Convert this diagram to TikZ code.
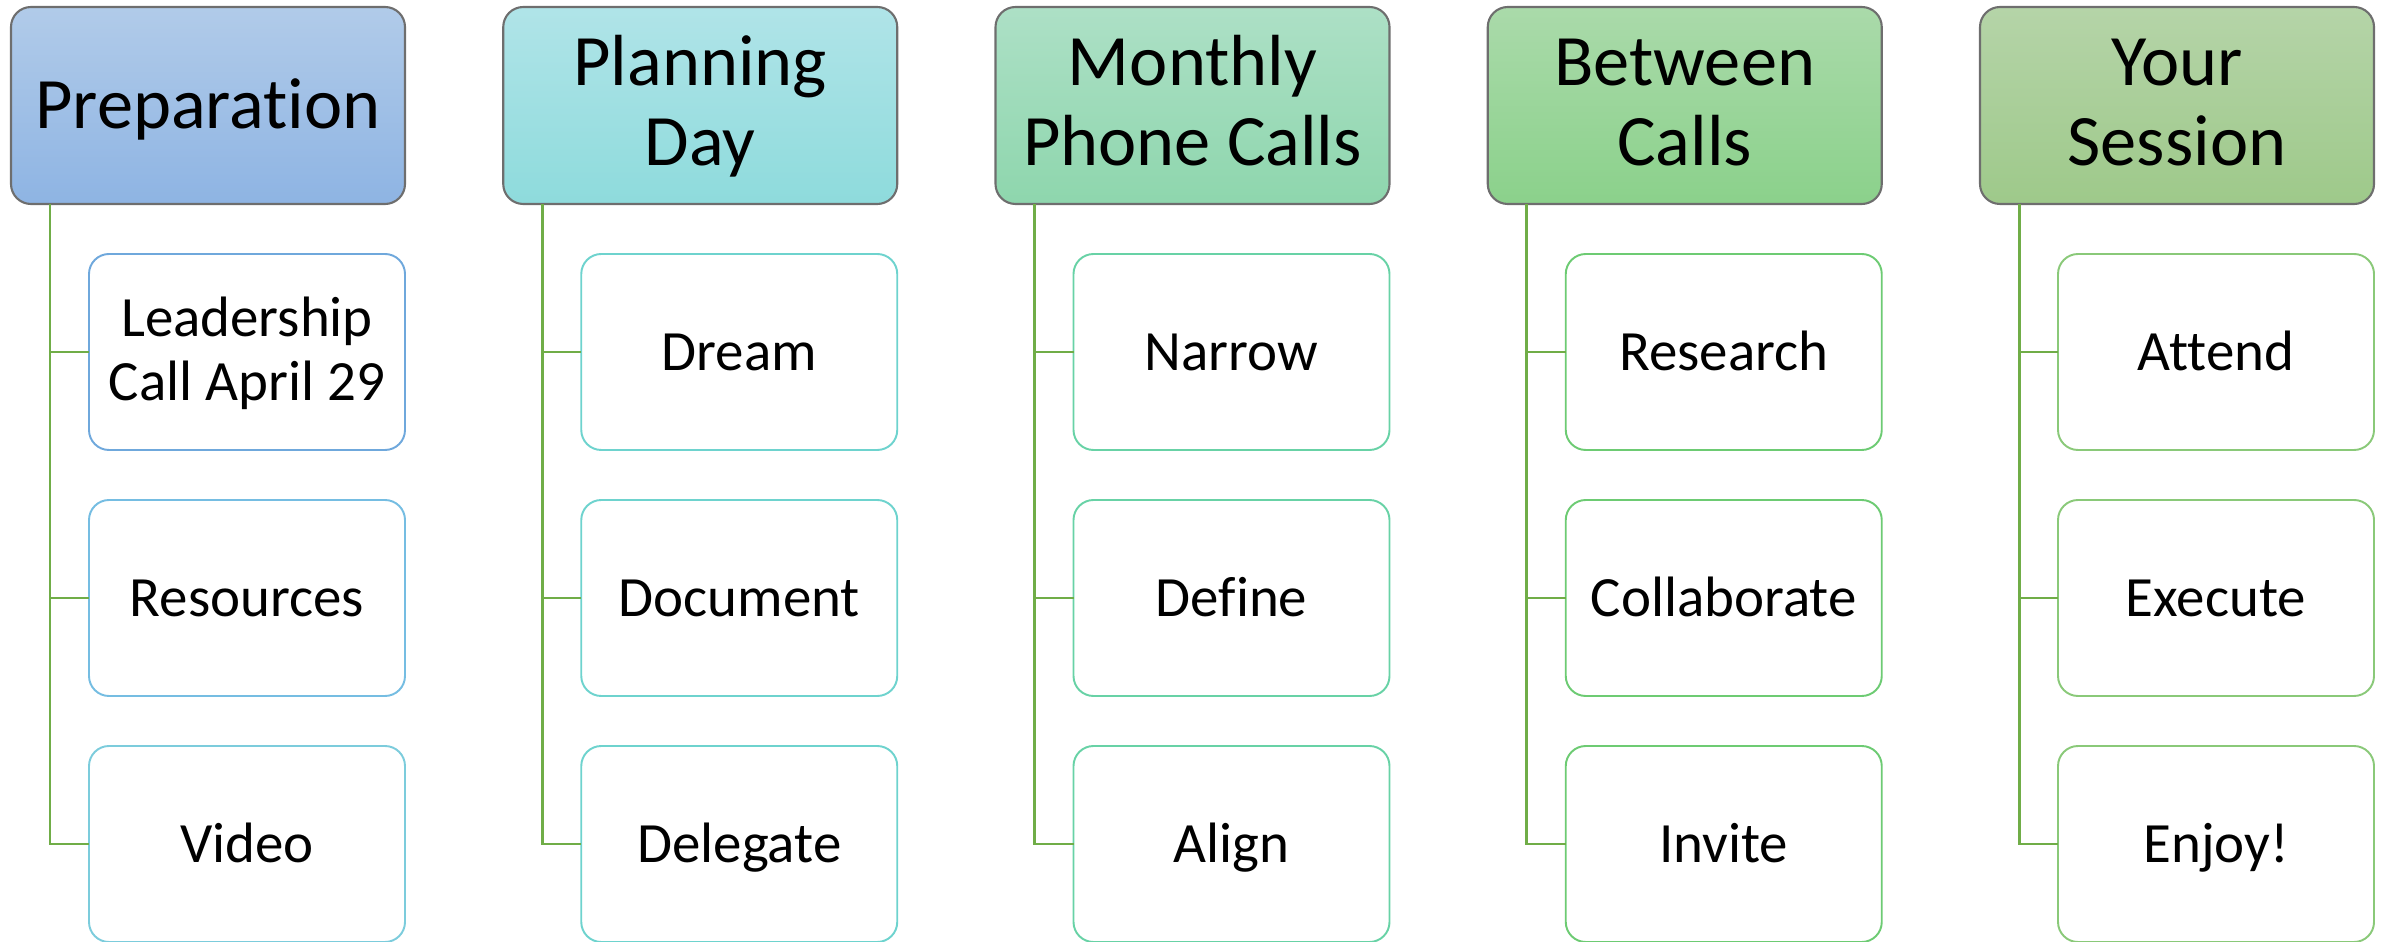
\documentclass[tikz,border=0pt]{standalone}
\usepackage{fontspec}
\setmainfont{Carlito}[Ligatures=NoCommon]
\usetikzlibrary{positioning}

% Colours of the phase headers (top / bottom of the shading)
\definecolor{prepTop}{HTML}{B1CBE9}  \definecolor{prepBot}{HTML}{8EB4E3}
\definecolor{planTop}{HTML}{B0E4E8}  \definecolor{planBot}{HTML}{8EDBDC}
\definecolor{callTop}{HTML}{ADE0C6}  \definecolor{callBot}{HTML}{8ED6AD}
\definecolor{betwTop}{HTML}{AADAAA}  \definecolor{betwBot}{HTML}{8BD18B}
\definecolor{sessTop}{HTML}{B5D4A8}  \definecolor{sessBot}{HTML}{9EC98A}
\definecolor{hdrGray}{HTML}{6E6E6E}
\definecolor{branchGreen}{HTML}{70AD47}

% Colours of the task borders
\definecolor{prepA}{HTML}{6FA8DC} \definecolor{prepB}{HTML}{75BDE2}
\definecolor{prepC}{HTML}{7CCCDC} \definecolor{planLine}{HTML}{6ED3CE}
\definecolor{callLine}{HTML}{68D2A6} \definecolor{betwLine}{HTML}{6DCB73}
\definecolor{sessLine}{HTML}{8AC979}

% A strut that keeps every text on the same baseline
\newcommand\lineStrut[1][0.85]{\rule[-0.27\baselineskip]{0pt}{\dimexpr#1\baselineskip+0.27\baselineskip\relax}}

\tikzset{
  phase/.style 2 args={draw=hdrGray, line width=0.6pt, top color=#1, bottom color=#2,
    rounded corners=0.2cm, minimum width=3.94cm, minimum height=1.97cm,
    inner sep=0pt, outer sep=0pt, align=center,
    font=\fontsize{20.6}{22.7}\selectfont,
    execute at begin node=\lineStrut, execute at end node=\lineStrut},
  task/.style={draw=#1, line width=0.55pt, fill=white, rounded corners=0.2cm,
    minimum width=3.16cm, minimum height=1.96cm, inner sep=0pt, outer sep=0pt,
    align=center, font=\fontsize{16.2}{18.4}\selectfont,
    execute at begin node=\lineStrut, execute at end node=\lineStrut},
  twolines/.style={execute at begin node={\lineStrut[1.78]}},
  branch/.style={draw=branchGreen, line width=0.85pt},
}

\begin{document}
\begin{tikzpicture}

% Fix the size of the page
\useasboundingbox (0,0) rectangle (23.87,-9.42);

% Define the gaps
\def\colGap{0.9825cm}
\def\rowGap{0.5cm}
\def\trunk{0.39cm}

% The phase headers
\node[phase={prepTop}{prepBot}, anchor=north west] (h1) at (0.11,-0.07) {Preparation};
\node[phase={planTop}{planBot}, twolines, right=\colGap of h1] (h2) {Planning\\Day};
\node[phase={callTop}{callBot}, twolines, right=\colGap of h2] (h3) {Monthly\\Phone Calls};
\node[phase={betwTop}{betwBot}, twolines, right=\colGap of h3] (h4) {Between\\Calls};
\node[phase={sessTop}{sessBot}, twolines, right=\colGap of h4] (h5) {Your\\Session};

% Tasks of each phase
\node[task=prepA, twolines, below left=\rowGap and 0cm of h1.south east] (c1a) {Leadership\\Call April 29};
\node[task=prepB, below=\rowGap of c1a] (c1b) {Resources};
\node[task=prepC, below=\rowGap of c1b] (c1c) {Video};

\node[task=planLine, below left=\rowGap and 0cm of h2.south east] (c2a) {Dream};
\node[task=planLine, below=\rowGap of c2a] (c2b) {Document};
\node[task=planLine, below=\rowGap of c2b] (c2c) {Delegate};

\node[task=callLine, below left=\rowGap and 0cm of h3.south east] (c3a) {Narrow};
\node[task=callLine, below=\rowGap of c3a] (c3b) {Define};
\node[task=callLine, below=\rowGap of c3b] (c3c) {Align};

\node[task=betwLine, below left=\rowGap and 0cm of h4.south east] (c4a) {Research};
\node[task=betwLine, below=\rowGap of c4a] (c4b) {Collaborate};
\node[task=betwLine, below=\rowGap of c4b] (c4c) {Invite};

\node[task=sessLine, below left=\rowGap and 0cm of h5.south east] (c5a) {Attend};
\node[task=sessLine, below=\rowGap of c5a] (c5b) {Execute};
\node[task=sessLine, below=\rowGap of c5b] (c5c) {Enjoy!};

% Branches from the headers to their tasks
\draw[branch] ([xshift=\trunk]h1.south west) |- (c1a.west); \draw[branch]
([xshift=\trunk]h1.south west) |- (c1b.west); \draw[branch]
([xshift=\trunk]h1.south west) |- (c1c.west);
\draw[branch] ([xshift=\trunk]h2.south west) |- (c2a.west); \draw[branch]
([xshift=\trunk]h2.south west) |- (c2b.west); \draw[branch]
([xshift=\trunk]h2.south west) |- (c2c.west);
\draw[branch] ([xshift=\trunk]h3.south west) |- (c3a.west); \draw[branch]
([xshift=\trunk]h3.south west) |- (c3b.west); \draw[branch]
([xshift=\trunk]h3.south west) |- (c3c.west);
\draw[branch] ([xshift=\trunk]h4.south west) |- (c4a.west); \draw[branch]
([xshift=\trunk]h4.south west) |- (c4b.west); \draw[branch]
([xshift=\trunk]h4.south west) |- (c4c.west);
\draw[branch] ([xshift=\trunk]h5.south west) |- (c5a.west); \draw[branch]
([xshift=\trunk]h5.south west) |- (c5b.west); \draw[branch]
([xshift=\trunk]h5.south west) |- (c5c.west);
\end{tikzpicture}
\end{document}
